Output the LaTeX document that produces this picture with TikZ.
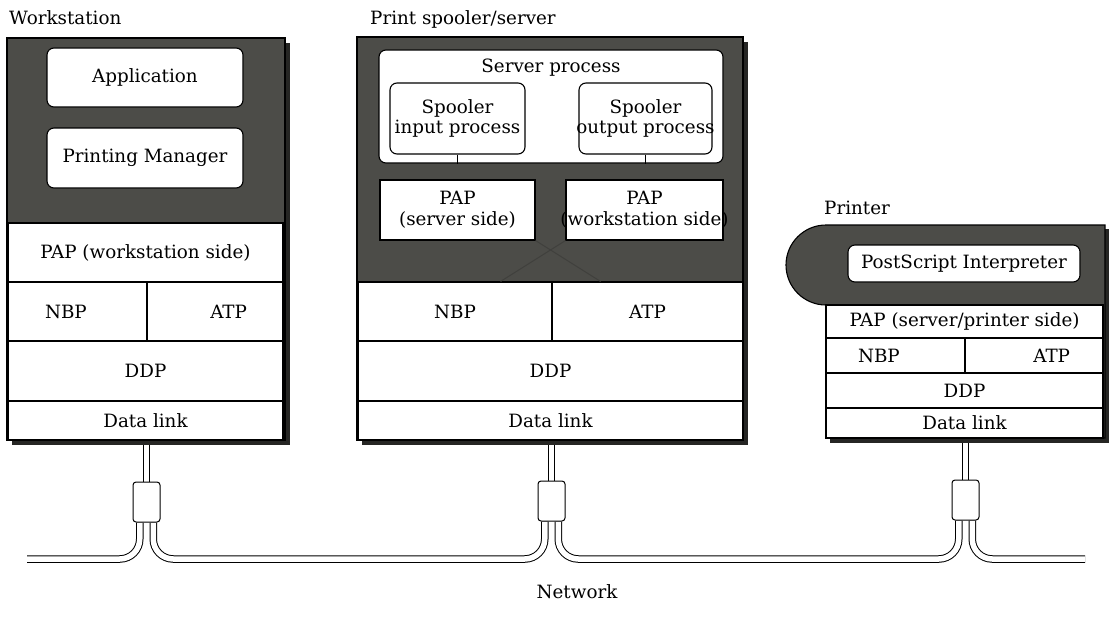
\documentclass[tikz,border=0pt]{standalone}
\usepackage{fontspec}
\setmainfont{DejaVu Serif}
\usetikzlibrary{calc,backgrounds}
\definecolor{panel}{RGB}{76,76,72}
\definecolor{panelshade}{RGB}{38,38,36}
\definecolor{panelline}{RGB}{64,64,61}
\newcommand\diagfont{\fontsize{18.3}{20.5}\selectfont}
\tikzset{
  txt/.style={font=\diagfont, inner sep=0pt, align=center},
  panelbox/.style={fill=panel, draw=black, line width=1.1pt, inner sep=0pt},
  shade/.style={fill=panelshade, draw=none, inner sep=0pt},
  cell/.style={draw=black, fill=white, line width=1.1pt, inner sep=0pt, font=\diagfont, align=center},
  proc/.style={cell, rounded corners=7pt},
  tap/.style={draw=black, fill=white, line width=1pt, rounded corners=3pt, inner sep=0pt,
              minimum width=27pt, minimum height=40pt},
  cable/.style={draw=black, line width=1pt, double=white, double distance=5.5pt, rounded corners=20pt},
  link/.style={draw=black, line width=1pt},
  ghost/.style={draw=panelline, line width=1pt},
}
\begin{document}
\begin{tikzpicture}[x=1pt, y=-1pt]
\useasboundingbox (0,0) rectangle (1110,626);

% titles
\node[txt, anchor=base west] (wsTitle) at (9,25) {Workstation};
\node[txt, anchor=base west] (spTitle) at (370,25) {Print spooler/server};
\node[txt, anchor=base west] (prTitle) at (824,214) {Printer};
\node[txt] (netTitle) at (577,592) {Network};

% workstation
\node[shade, minimum width=278, minimum height=402] (wsShade) at (151,244) {};
\node[panelbox, minimum width=278, minimum height=402] (ws) at (146,239) {};
\node[proc, minimum width=196, minimum height=59] (app) at (145,77.5) {Application};
\node[proc, minimum width=196, minimum height=60] (pm) at (145,158) {Printing Manager};
\node[cell, minimum width=275, minimum height=59] (wsPAP) at (145.5,252.5) {PAP (workstation side)};
\node[cell, minimum width=139, minimum height=59, text width=65, align=left] (wsNBP) at (77.5,311.5) {NBP};
\node[cell, minimum width=136, minimum height=59, text width=64, align=right] (wsATP) at (215,311.5) {ATP};
\node[cell, minimum width=275, minimum height=60] (wsDDP) at (145.5,371) {DDP};
\node[cell, minimum width=275, minimum height=39] (wsDL) at (145.5,420.5) {Data link};

% print spooler / server
\node[shade, minimum width=386, minimum height=403] (spShade) at (555,243.5) {};
\node[panelbox, minimum width=386, minimum height=403] (sp) at (550,238.5) {};
\node[proc, minimum width=344, minimum height=113] (srv) at (551,106.5) {};
\node[txt] (srvTitle) at (551,68) {Server process};
\node[proc, minimum width=135, minimum height=71] (spIn) at (457.5,118.5) {};
\node[txt] (spInText) at (spIn) {Spooler\\input process};
\node[proc, minimum width=133, minimum height=71] (spOut) at (645.5,118.5) {};
\node[txt] (spOutText) at (spOut) {Spooler\\output process};
\draw[link] (spIn.south) -- (spIn.south |- srv.south);
\draw[link] (spOut.south) -- (spOut.south |- srv.south);
\node[cell, minimum width=155, minimum height=60] (papS) at (457.5,210) {PAP\\(server side)};
\node[cell, minimum width=157, minimum height=60] (papW) at (644.5,210) {};
\node[txt] (papWText) at (papW) {PAP\\(workstation side)};
\node[cell, minimum width=194, minimum height=59] (spNBP) at (455,311.5) {NBP};
\node[cell, minimum width=191, minimum height=59] (spATP) at (647.5,311.5) {ATP};
\node[cell, minimum width=385, minimum height=60] (spDDP) at (550.5,371) {DDP};
\node[cell, minimum width=385, minimum height=39] (spDL) at (550.5,420.5) {Data link};
\draw[ghost] (papS.south east) -- ([xshift=48]spNBP.north east);
\draw[ghost] (papW.south west) -- ([xshift=-52]spNBP.north east);

% printer
\node[shade, minimum width=279, minimum height=214] (prShade) at (969.5,336) {};
\draw[panelbox] (1105,225) -- (826,225) arc[start angle=270, end angle=90, radius=40]
  -- (826,438) -- (1105,438) -- cycle;
\node[proc, minimum width=232, minimum height=37] (ps) at (964,263.5) {PostScript Interpreter};
\node[cell, minimum width=277, minimum height=33] (prPAP) at (964.5,321.5) {PAP (server/printer side)};
\node[cell, minimum width=139, minimum height=35, text width=75, align=left] (prNBP) at (895.5,355.5) {NBP};
\node[cell, minimum width=138, minimum height=35, text width=72, align=right] (prATP) at (1034,355.5) {ATP};
\node[cell, minimum width=277, minimum height=35] (prDDP) at (964.5,390.5) {DDP};
\node[cell, minimum width=277, minimum height=30] (prDL) at (964.5,423) {Data link};

% network taps
\node[tap] (wsTap) at (146.5,502) {};
\node[tap] (spTap) at (551.5,501) {};
\node[tap] (prTap) at (965.5,500) {};

\coordinate (wsL) at ([xshift=-6.75]wsTap.south);
\coordinate (wsR) at ([xshift=6.75]wsTap.south);
\coordinate (spL) at ([xshift=-6.75]spTap.south);
\coordinate (spR) at ([xshift=6.75]spTap.south);
\coordinate (prL) at ([xshift=-6.75]prTap.south);
\coordinate (prR) at ([xshift=6.75]prTap.south);
\coordinate (netW) at (27,559);
\coordinate (netE) at (1085,559);

\begin{scope}[on background layer]
  \draw[cable] (wsTap.north) -- (wsTap.north |- ws.south);
  \draw[cable] (spTap.north) -- (spTap.north |- sp.south);
  \draw[cable] (prTap.north) -- (prTap.north |- prDL.south);
  \draw[cable] (wsL) |- (netW);
  \draw[cable] (wsR) |- (spL |- netW) -- (spL);
  \draw[cable] (spR) |- (prL |- netW) -- (prL);
  \draw[cable] (prR) |- (netE);
\end{scope}
\end{tikzpicture}
\end{document}
